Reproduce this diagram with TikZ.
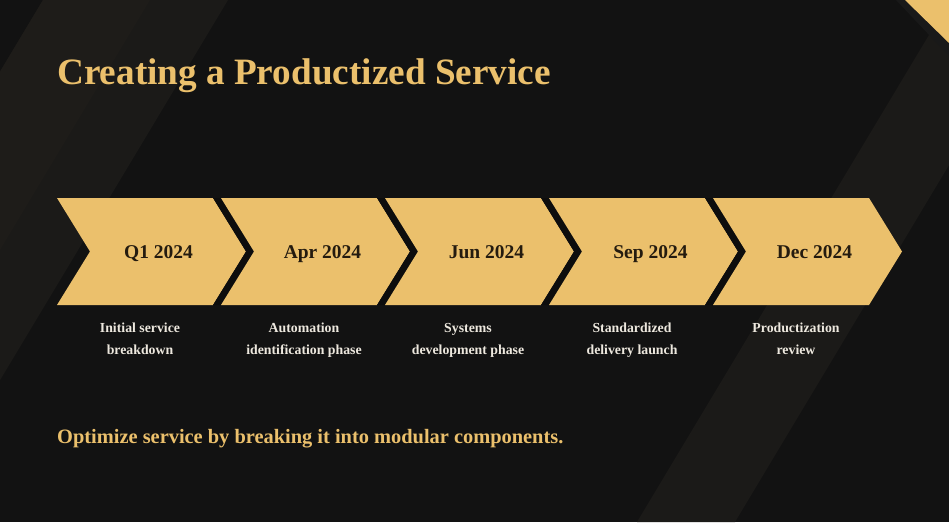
\documentclass[tikz,border=0pt]{standalone}
\usepackage{fontspec}
\setmainfont{Liberation Serif}
\definecolor{bg}{HTML}{121212}
\definecolor{band}{HTML}{1B1A18}
\definecolor{bandhi}{HTML}{1E1C19}
\definecolor{gold}{HTML}{EBC06C}
\definecolor{ink}{HTML}{241B0F}
\definecolor{paper}{HTML}{EDE8DE}
\begin{document}
\begin{tikzpicture}[x=1pt,y=-1pt,line join=round,
	chev/.style={fill=gold},
	gap/.style={fill=black!95},
	date/.style={font=\bfseries\fontsize{19.5}{20}\selectfont,text=ink,inner sep=0pt,anchor=base},
	note/.style={font=\bfseries\fontsize{13.8}{22}\selectfont,text=paper,align=center,inner sep=0pt,anchor=north}]
	\useasboundingbox (0,0) rectangle (949,522);
	\clip (0,0) rectangle (949,522);
	\fill[bg] (0,0) rectangle (949,522);
	% slanted bands
	\fill[band] (43,0)--(228,0)--(-85,522)--(-270,522)--cycle;
	\fill[bandhi] (43,0)--(150,0)--(-163,522)--(-270,522)--cycle;
	\fill[band] (950,0)--(1048,0)--(735,522)--(637,522)--cycle;
	\fill[black!90] (896,0)--(905,0)--(949,43)--(949,56)--cycle;
	\fill[gold] (905,0)--(949,0)--(949,43)--cycle;
	% title and footer
	\node[font=\bfseries\fontsize{37.2}{38}\selectfont,text=gold,inner sep=0pt,anchor=base west] (title) at (57,84) {Creating a Productized Service};
	\node[font=\bfseries\fontsize{20.4}{21}\selectfont,text=gold,inner sep=0pt,anchor=base west] (foot) at (57,443.5) {Optimize service by breaking it into modular components.};
	% timeline
	\foreach \i/\d/\t in {0/Q1 2024/Initial service\\breakdown,1/Apr 2024/Automation\\identification phase,2/Jun 2024/Systems\\development phase,3/Sep 2024/Standardized\\delivery launch,4/Dec 2024/Productization\\review}{
		\pgfmathsetmacro{\L}{57+164*\i}
		\fill[chev] (\L,198)--(\L+156,198)--(\L+189,251.5)--(\L+156,305)--(\L,305)--(\L+33,251.5)--cycle;
		\ifnum\i<4
			\fill[gap] (\L+156,198)--(\L+164,198)--(\L+197,251.5)--(\L+164,305)--(\L+156,305)--(\L+189,251.5)--cycle;
		\fi
		\node[date] (d\i) at (\L+101.5,258.5) {\d};
		\node[note] (n\i) at (\L+83,323) {\t};
	}
\end{tikzpicture}
\end{document}
